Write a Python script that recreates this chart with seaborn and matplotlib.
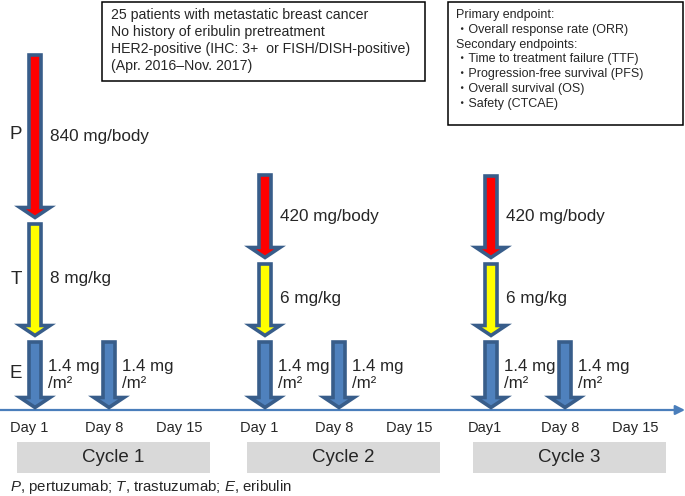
import matplotlib
matplotlib.use("Agg")
import matplotlib.pyplot as plt
from matplotlib.patches import Polygon, Rectangle
import seaborn as sns

# schedule content
cycles = ["Cycle 1", "Cycle 2", "Cycle 3"]
day_labels = [["Day 1", "Day 8", "Day 15"],
              ["Day 1", "Day 8", "Day 15"],
              ["Day1", "Day 8", "Day 15"]]
p_doses = ["840 mg/body", "420 mg/body", "420 mg/body"]
t_doses = ["8 mg/kg", "6 mg/kg", "6 mg/kg"]
e_days = [1, 8]
e_dose = ["1.4 mg", "/m\u00b2"]
drugs = ["P", "T", "E"]

box1_lines = ["25 patients with metastatic breast cancer",
              "No history of eribulin pretreatment",
              "HER2-positive (IHC: 3+  or FISH/DISH-positive)",
              "(Apr. 2016\u2013Nov. 2017)"]
box2_lines = ["Primary endpoint:",
              "\u30fbOverall response rate (ORR)",
              "Secondary endpoints:",
              "\u30fbTime to treatment failure (TTF)",
              "\u30fbProgression-free survival (PFS)",
              "\u30fbOverall survival (OS)",
              "\u30fbSafety (CTCAE)"]
footnote = r"$\it{P}$, pertuzumab; $\it{T}$, trastuzumab; $\it{E}$, eribulin"

# layout (pixels)
cycle_x = [35, 265, 491]
week = 74
p_top = [53, 173, 174]
p_tip = [220, 260, 260]
t_tip = 338
e_top = 340
axis_y = 410

sns.set_theme(style="white")
plt.rcParams["font.family"] = ["Liberation Sans", "Noto Sans CJK JP", "DejaVu Sans"]
plt.rcParams["mathtext.fontset"] = "custom"
plt.rcParams["mathtext.rm"] = "Liberation Sans"
plt.rcParams["mathtext.it"] = "Liberation Sans:italic"

fig = plt.figure(figsize=(6.85, 4.96), dpi=100)
ax = fig.add_axes([0, 0, 1, 1])
ax.set_xlim(0, 685)
ax.set_ylim(496, 0)
ax.axis("off")

OUT = "#385d8a"
BLUE = "#4f81bd"


def arrow(x, top, tip, fc):
    y0 = top + 2
    y1 = tip - 2.5
    hl = 10
    pts = [(x - 6, y0), (x + 6, y0), (x + 6, y1 - hl), (x + 15, y1 - hl),
           (x, y1), (x - 15, y1 - hl), (x - 6, y1 - hl)]
    ax.add_patch(Polygon(pts, closed=True, fc=fc, ec=OUT, lw=2.6,
                         joinstyle="miter", zorder=3))


# timeline
ax.annotate("", xy=(685, axis_y), xytext=(0, axis_y),
            arrowprops=dict(arrowstyle="-|>", color="#4a7ebb", lw=1.6,
                            mutation_scale=14, shrinkA=0, shrinkB=0))

for i, x0 in enumerate(cycle_x):
    arrow(x0, p_top[i], p_tip[i], "#ff0000")
    arrow(x0, p_tip[i] + 2, t_tip, "#ffff00")
    ax.text(x0 + 15, (p_top[i] + p_tip[i]) / 2, p_doses[i], fontsize=12.3,
            va="center", ha="left")
    ax.text(x0 + 15, (p_tip[i] + t_tip) / 2, t_doses[i], fontsize=12.3,
            va="center", ha="left")
    for d in e_days:
        xe = x0 + (d - 1) / 7 * week
        arrow(xe, e_top, axis_y, BLUE)
        mid = (e_top + axis_y) / 2
        ax.text(xe + 13, mid - 9, e_dose[0], fontsize=12.2, va="center", ha="left")
        ax.text(xe + 13, mid + 9, e_dose[1], fontsize=12.2, va="center", ha="left")
    for j, lab in enumerate(day_labels[i]):
        ax.text(x0 - 6 + j * 75, 428, lab, fontsize=10.5, ha="center", va="center")
    ax.add_patch(Rectangle((x0 - 18, 442), 193, 31, fc="#d9d9d9", ec="none"))
    ax.text(x0 - 18 + 96.5, 457.5, cycles[i], fontsize=13.5, ha="center", va="center")

# drug letters
for lab, y in zip(drugs, [(p_top[0] + p_tip[0]) / 2 - 2, (p_tip[0] + t_tip) / 2,
                          (e_top + axis_y) / 2 - 2]):
    ax.text(16, y, lab, fontsize=13.5, ha="center", va="center")

# boxes
ax.add_patch(Rectangle((102, 2), 323, 79, fc="white", ec="black", lw=1.1))
for k, line in enumerate(box1_lines):
    ax.text(111, 15 + k * 17, line, fontsize=10.2, ha="left", va="center")

ax.add_patch(Rectangle((448, 2), 235, 123, fc="white", ec="black", lw=1.1))
for k, line in enumerate(box2_lines):
    ax.text(456, 15 + k * 14.8, line, fontsize=9, ha="left", va="center")

ax.text(10, 487, footnote, fontsize=10.8, ha="left", va="center")

fig.savefig("out.png", dpi=100)
